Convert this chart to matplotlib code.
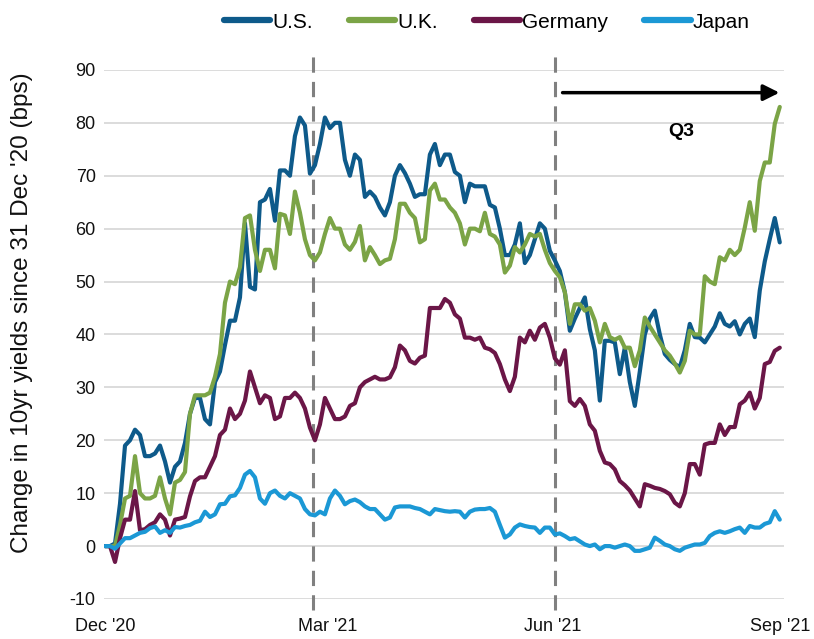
import matplotlib
matplotlib.use('Agg')
import matplotlib.pyplot as plt
import matplotlib.dates as mdates
import pandas as pd

plt.rcParams['font.family'] = ['Liberation Sans', 'DejaVu Sans']
plt.rcParams['axes.unicode_minus'] = False

# change in 10yr yields since 31 Dec '20 (bps), sampled evenly from start to end
start, end = '2020-12-31', '2021-09-30'

us = [0, 0, 0.5, 8, 19, 20, 22, 21, 17, 17, 17.5, 19, 16, 12, 15, 16, 19.5, 25, 28, 28,
      24, 23, 31, 33, 38, 42.6, 42.6, 47, 61, 49, 48.5, 65, 65.5, 67.5, 61.5, 71, 71, 70, 77.5, 81,
      79.5, 70.4, 72, 76, 81, 79, 80, 80, 73, 70, 74, 73, 66, 67, 66, 64, 62.5, 65, 70, 72,
      70.5, 68.5, 66, 66.5, 66.5, 74, 76, 72, 74, 74, 70.7, 70, 65, 68.5, 68, 68, 68, 64.5, 64, 60,
      55, 55, 57, 61, 53.5, 55, 58, 61, 60, 55.8, 54, 52, 48, 40.7, 43, 45, 47, 41, 37, 27.5,
      38.8, 38.8, 38.5, 32.5, 37.5, 31, 26.5, 33, 40, 43, 44.5, 40, 36.3, 35.2, 34.4, 33.8, 37, 42, 39.5, 39.4,
      38.5, 40, 41.5, 44, 42, 41.5, 42.5, 40, 42, 43, 39.5, 48.3, 53.8, 58, 62, 57.4]

uk = [0, 0, 0, 4, 9, 9.5, 17, 10, 9, 9, 9.5, 13, 9, 6, 12, 12.5, 14, 25, 28.5, 28.5,
      28.5, 29, 32, 36.3, 46, 50, 49.5, 52.7, 62, 62.5, 56, 52, 56, 56, 52.5, 62.8, 62.5, 59, 67, 63,
      58, 55, 54, 55.5, 59, 62, 60, 60, 57, 56, 57.5, 60.5, 54, 56.5, 55, 53.3, 54, 54.3, 58, 64.7,
      64.7, 63, 62, 57.4, 58, 67.2, 68.5, 65.5, 65.5, 64, 63, 61, 57, 60, 60, 59.5, 63, 59, 58.5, 57,
      51.7, 53, 56.5, 55.5, 57, 59, 58.5, 59, 56, 53.5, 52, 50.8, 48, 42, 45.7, 45.7, 44.5, 45, 42.6, 38.5,
      42, 39.5, 39, 39.5, 37.5, 37.5, 34, 37, 43.2, 41.5, 40, 38.5, 37, 36, 34.5, 32.8, 35, 40.7, 40, 40,
      51, 50, 49.5, 54.6, 54, 56, 55, 56, 60.2, 65, 59.6, 69, 72.5, 72.5, 79.8, 83]

germany = [0, 0, -3, 1.5, 5, 5, 10.4, 3, 3.2, 4, 4.5, 6, 5, 2, 5, 5.2, 5.5, 9.4, 12.3, 13,
           13, 15, 17, 21, 22, 26, 24, 25, 27.5, 33, 30, 27, 28.5, 28, 24, 24.5, 28, 28, 29, 28,
           26, 22.4, 20, 23, 28, 26, 24, 24, 24.5, 26.5, 27, 30, 31, 31.5, 32, 31.5, 31.5, 31.9, 33.8, 37.9,
           37, 35, 34.5, 35.6, 36, 45, 45, 45, 46.7, 46, 43.8, 43, 39.4, 39.4, 39, 39.4, 37.5, 37.2, 36.5, 34.4,
           31.5, 29.3, 32, 39.4, 38.5, 40.7, 39, 41.3, 42, 39.4, 35.5, 34.3, 37, 27.4, 26.5, 27.8, 26.5, 23, 21.8, 18,
           15.8, 15.5, 14.5, 12.3, 11.5, 10.5, 9, 7.5, 11.7, 11.4, 11, 10.8, 10.4, 9.8, 8.2, 7.5, 10, 15.5, 15.5, 13.5,
           19.2, 19.5, 19.5, 23, 21, 22.5, 22.5, 26.8, 27.5, 29, 26, 28, 34.4, 34.8, 36.9, 37.5]

japan = [0, 0, -0.5, 0.5, 1.5, 1.5, 2, 2.5, 2.7, 3.4, 3.7, 2.5, 3, 2.5, 3.6, 3.5, 3.8, 4, 4.5, 4.8,
         6.5, 5.5, 6, 7.9, 8, 9.4, 9.6, 11, 13.5, 14.2, 13, 9, 8, 10, 10.5, 9.5, 9, 10, 9.5, 9,
         7, 6, 5.8, 6.5, 6, 9, 10.5, 9.5, 7.9, 8.5, 8.8, 8.3, 7.5, 7, 7, 6, 5, 5.4, 7.3, 7.5,
         7.5, 7.5, 7.2, 7, 6.5, 6, 7, 6.8, 6.6, 6.5, 6.6, 6.5, 5.4, 6.5, 6.9, 7, 7, 7.2, 6.5, 4,
         1.6, 2.2, 3.5, 4.1, 3.8, 3.6, 3.5, 2.5, 3.5, 3.5, 2.2, 2.4, 1.9, 1.3, 1.5, 0.9, 0.3, 0, 0.3, -0.6,
         0, 0, -0.3, 0, 0.3, 0, -0.9, -0.9, -0.6, -0.3, 1.6, 1, 0.3, 0, -0.6, -0.9, -0.3, 0, 0.3, 0.3,
         0.6, 1.9, 2.5, 2.8, 2.5, 2.8, 3.2, 3.5, 2.5, 3.8, 3.5, 3.5, 4.2, 4.5, 6.6, 5]

tick_dates = ['2020-12-31', '2021-03-31', '2021-06-30', '2021-09-30']
tick_labels = ["Dec '20", "Mar '21", "Jun '21", "Sep '21"]
marker_dates = ['2021-03-25', '2021-07-01']

dates = pd.date_range(start, end, periods=len(us))

fig = plt.figure(figsize=(8.14, 6.39), dpi=100)
ax = fig.add_axes([0.1278, 0.0626, 0.835, 0.828])

series = [('U.S.', us, '#0e5a8a'), ('U.K.', uk, '#7ba446'),
          ('Germany', germany, '#6b1647'), ('Japan', japan, '#1b98d5')]
for name, vals, col in series:
    ax.plot(dates, vals, color=col, lw=3.0, label=name,
            solid_joinstyle='round', solid_capstyle='round')

ax.set_ylim(-10, 90)
ax.set_yticks(range(-10, 91, 10))
ax.set_xlim(pd.Timestamp(start) - pd.Timedelta(days=0.4),
            pd.Timestamp(end) + pd.Timedelta(days=1.6))
ax.set_xticks(pd.to_datetime(tick_dates))
ax.set_xticklabels(tick_labels)

ax.grid(axis='y', color='#d9d9d9', lw=1.3)
ax.set_axisbelow(True)
for s in ax.spines.values():
    s.set_visible(False)
ax.tick_params(length=0, labelsize=13, colors='#111111', pad=6)
ax.tick_params(axis='x', pad=14)

fig.text(22 / 814, 0.51, "Change in 10yr yields since 31 Dec '20 (bps)", rotation=90,
         ha='center', va='center', fontsize=17.5, color='#111111')

for d in marker_dates:
    ax.axvline(pd.Timestamp(d), ymin=-0.02, ymax=1.033, color='#808080', lw=2.2,
               dashes=(5, 3), clip_on=False, zorder=1)

x0 = mdates.date2num(pd.Timestamp('2021-07-03'))
x1 = mdates.date2num(pd.Timestamp('2021-10-01'))
ax.annotate('', xy=(x1, 85.7), xytext=(x0, 85.7),
            arrowprops=dict(arrowstyle='-|>', color='black', lw=2.5, mutation_scale=24),
            annotation_clip=False)
ax.text(mdates.date2num(pd.Timestamp('2021-08-21')), 78.3, 'Q3', fontsize=14,
        fontweight='bold', ha='center', va='center')

leg = ax.legend(loc='center', bbox_to_anchor=(0.563, 1.09), ncol=4, frameon=False,
                fontsize=15, handlelength=2.25, handletextpad=0.1, columnspacing=1.7)
for h in leg.get_lines():
    h.set_linewidth(4.5)

fig.savefig('out.png', dpi=100)
